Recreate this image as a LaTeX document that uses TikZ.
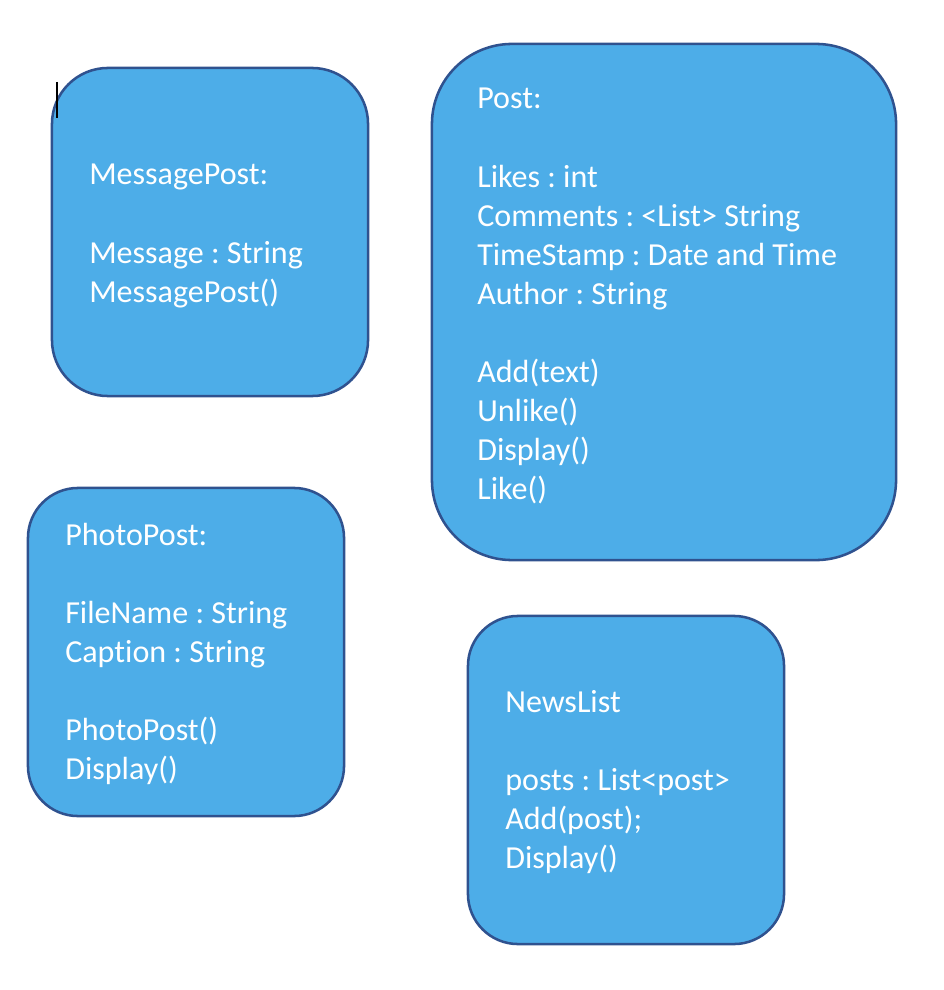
\documentclass[tikz,border=0pt]{standalone}
\usepackage{fontspec}
\setmainfont{Carlito}[Ligatures=NoCommon]
\frenchspacing

\begin{document}
\begin{tikzpicture}[x=0.025cm,y=-0.025cm,
    classbox/.style={draw=box_edge, fill=box_fill, line width=1.8pt,
        minimum width=7.9cm, minimum height=8.2cm, inner sep=0pt},
    classtext/.style={anchor=base west, inner sep=0pt, text=white,
        font=\fontsize{22.8}{27.8}\selectfont}]
    \definecolor{box_fill}{HTML}{4DADE8}
    \definecolor{box_edge}{HTML}{2F528F}
    \useasboundingbox (0,0) rectangle (944,990);
    %\draw[help lines,step=50] (0,0) grid (944,990);

    \node[classbox, rounded corners=1.4cm] (message) at (210,232) {};
    \node[classbox, rounded corners=2cm, minimum width=11.6cm, minimum height=12.9cm] (post) at (664,302) {};
    \node[classbox, rounded corners=1.25cm] (photo) at (186,652) {};
    \node[classbox, rounded corners=1.25cm] (news) at (626,780) {};

    % text cursor
    \draw[line width=0.8pt] (57,82) -- (57,118);

    \node[classtext] (message_text) at (89,185) {
        \begin{tabular}[t]{@{}l@{}}
            MessagePost:\\ \\
            Message : String\\
            MessagePost()
        \end{tabular}
    };
    \node[classtext] (post_text) at (477,109) {
        \begin{tabular}[t]{@{}l@{}}
            Post:\\ \\
            Likes : int\\
            Comments : <List> String\\
            TimeStamp : Date and Time\\
            Author : String\\ \\
            Add(text)\\
            Unlike()\\
            Display()\\
            Like()
        \end{tabular}
    };
    \node[classtext] (photo_text) at (65,545) {
        \begin{tabular}[t]{@{}l@{}}
            PhotoPost:\\ \\
            FileName : String\\
            Caption : String\\ \\
            PhotoPost()\\
            Display()
        \end{tabular}
    };
    \node[classtext] (news_text) at (505,712) {
        \begin{tabular}[t]{@{}l@{}}
            NewsList\\ \\
            posts : List<post>\\
            Add(post);\\
            Display()
        \end{tabular}
    };
\end{tikzpicture}
\end{document}
